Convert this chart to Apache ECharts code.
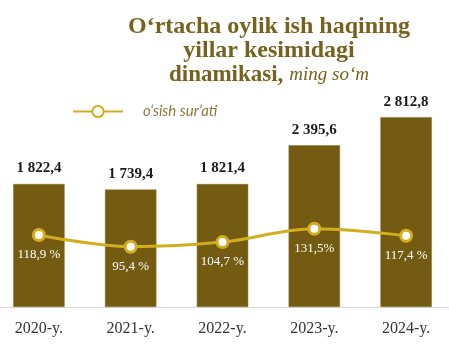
<!DOCTYPE html>
<html>
<head>
<meta charset="utf-8">
<script src="https://cdn.jsdelivr.net/npm/echarts@6/dist/echarts.min.js"></script>
<style>
html,body{margin:0;padding:0;background:#fff;}
#c{width:449px;height:346px;}
</style>
</head>
<body>
<div id="c"></div>
<script>
const categories = ['2020-y.', '2021-y.', '2022-y.', '2023-y.', '2024-y.'];
const wageValues = [1822.4, 1739.4, 1821.4, 2395.6, 2812.8];
const growthValues = [118.9, 95.4, 104.7, 131.5, 117.4];
const growthName = 'o‘sish sur’ati';

function fmtNum(v) {
  const s = v.toFixed(1).replace('.', ',');
  const parts = s.split(',');
  const int = parts[0].replace(/\B(?=(\d{3})+(?!\d))/g, ' ');
  return int + ',' + parts[1];
}
function fmtPct(v) {
  const s = v.toFixed(1).replace('.', ',');
  return v === 131.5 ? s + '%' : s + ' %';
}

const chart = echarts.init(document.getElementById('c'), null, {renderer: 'canvas'});
chart.setOption({
  animation: false,
  backgroundColor: '#ffffff',
  title: {
    text: '{t|O‘rtacha oylik ish haqining}\n{t|yillar kesimidagi}\n{a|dinamikasi,} {b|ming so‘m}',
    left: 264,
    top: 10,
    textAlign: 'center',
    textStyle: {
      fontFamily: 'Liberation Serif',
      fontWeight: 'bold',
      fontSize: 24,
      color: '#76621e',
      lineHeight: 24,
      rich: {
        t: {fontFamily: 'Liberation Serif', fontWeight: 'bold', fontSize: 24, color: '#76621e', lineHeight: 24},
        a: {fontFamily: 'Liberation Serif', fontWeight: 'bold', fontSize: 23, color: '#76621e', lineHeight: 24},
        b: {fontFamily: 'Liberation Serif', fontStyle: 'italic', fontWeight: 'normal', fontSize: 19, color: '#76621e', lineHeight: 24}
      }
    }
  },
  legend: {
    data: [growthName],
    left: 67,
    top: 99,
    itemWidth: 50,
    itemHeight: 14,
    itemGap: 10,
    textStyle: {
      fontFamily: 'Lato',
      fontStyle: 'italic',
      fontSize: 15,
      color: '#8a7a3c',
      padding: [0, 0, 0, 15]
    }
  },
  grid: {left: -7, width: 459, top: 104.5, height: 202.5, containLabel: false, outerBoundsMode: 'none'},
  xAxis: {
    type: 'category',
    data: categories,
    axisLine: {lineStyle: {color: '#d9d9d9', width: 1}},
    axisTick: {show: false},
    axisLabel: {fontFamily: 'Liberation Serif', fontSize: 16, color: '#333', margin: 14}
  },
  yAxis: [
    {type: 'value', min: 0, max: 3000, show: false, splitLine: {show: false}},
    {type: 'value', min: -25.5, max: 380.6, show: false, splitLine: {show: false}}
  ],
  series: [
    {
      name: 'wage',
      type: 'bar',
      data: wageValues,
      barCategoryGap: '44%',
      itemStyle: {color: '#735b12', borderColor: '#8a7330', borderWidth: 0.5},
      label: {
        show: true,
        position: 'top',
        distance: 8,
        formatter: p => fmtNum(p.value),
        fontFamily: 'Liberation Serif',
        fontWeight: 'bold',
        fontSize: 15,
        color: '#1a1a1a'
      }
    },
    {
      name: growthName,
      type: 'line',
      yAxisIndex: 1,
      data: growthValues,
      smooth: 0.35,
      symbol: 'circle',
      symbolSize: 11,
      lineStyle: {color: '#d2ae1e', width: 3},
      itemStyle: {color: '#ffffff', borderColor: '#d2ae1e', borderWidth: 3},
      label: {
        show: true,
        position: 'bottom',
        distance: 6,
        formatter: p => fmtPct(p.value),
        fontFamily: 'Liberation Serif',
        fontSize: 13,
        color: '#ffffff'
      },
      z: 5
    }
  ]
});
</script>
</body>
</html>
